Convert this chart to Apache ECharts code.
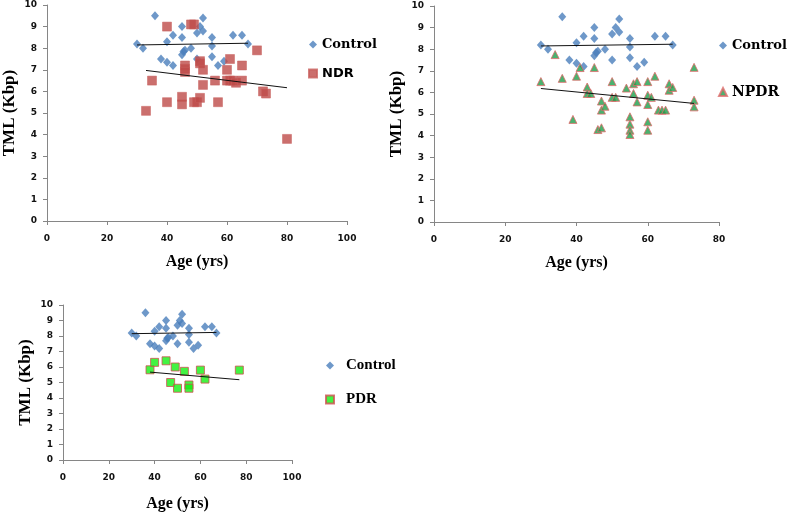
<!DOCTYPE html>
<html><head><meta charset="utf-8">
<script src="https://cdn.jsdelivr.net/npm/echarts@6/dist/echarts.min.js"></script>
<style>html,body{margin:0;padding:0;background:#fff}#c{width:787px;height:513px}</style>
</head><body><div id="c"></div>
<script>
// Control group (same in all three panels)
var ctrlAge = [30,32,36,38,40,40,42,42,45,45,45,45.5,46,48,50,50,51,52,52,55,55,55,57,59,62,65,67];
var ctrlTml = [8.2,8.0,9.5,7.5,8.3,7.35,8.6,7.2,9.0,8.5,7.7,7.85,7.9,8.0,8.7,7.5,9.0,8.8,9.4,8.5,8.1,7.6,7.2,7.4,8.6,8.6,8.2];
// NDR
var ndrAge = [33,35,40,40,45,45,46,46,46,48,49,49,50,51,51,51,52,52,56,57,60,61,60,61,62,63,65,65,70,72,73,80];
var ndrTml = [5.1,6.5,9.0,5.5,5.75,5.4,7.2,7.05,6.9,9.1,9.1,5.5,5.5,5.7,7.4,7.3,7.0,6.3,6.5,5.5,7.0,7.5,6.5,6.5,6.5,6.4,7.2,6.5,7.9,6.0,5.9,3.8];
// NPDR
var npdrAge = [30,34,36,39,40,41,43,43,44,45,46,47,47,47,48,50,50,51,54,55,55,55,55,56,56,57,57,60,60,60,60,60,61,62,63,64,65,66,66,67,73,73,73];
var npdrTml = [6.5,7.75,6.65,4.75,6.75,7.15,6.25,5.95,5.95,7.15,4.28,4.36,5.6,5.18,5.36,6.5,5.77,5.77,6.2,4.87,4.53,4.25,4.05,6.4,5.95,6.5,5.56,6.5,5.87,5.44,4.64,4.25,5.77,6.75,5.18,5.18,5.18,6.4,6.1,6.23,7.16,5.64,5.33];
// PDR
var pdrAge = [38,40,45,47,49,50,53,55,55,60,62,77];
var pdrTml = [5.82,6.3,6.4,5.0,6.0,4.63,5.72,4.84,4.63,5.8,5.22,5.8];
// Trend line endpoints
var ctrlTrendAge = [30,67], ctrlTrendTml = [8.15,8.23];
var ndrTrendAge = [33,80], ndrTrendTml = [6.97,6.17];
var npdrTrendAge = [30,73], npdrTrendTml = [6.18,5.49];
var pdrTrendAge = [38,77], pdrTrendTml = [5.67,5.18];
// Axis ticks
var yTicks = [0,1,2,3,4,5,6,7,8,9,10];
var xMax = [100, 80, 100];

function zip(a,b){ return a.map(function(v,i){ return [v,b[i]]; }); }

var axisGray = '#868686';
function xAx(gi, gap){
  return {type:'value', gridIndex:gi, min:0, max:xMax[gi], interval:20,
    name:'Age (yrs)', nameLocation:'middle', nameGap:gap,
    nameTextStyle:{fontFamily:'Liberation Serif', fontWeight:'bold', fontSize:16, color:'#000'},
    axisLine:{onZero:false, lineStyle:{color:axisGray, width:1}},
    axisTick:{show:true, length:4, lineStyle:{color:axisGray}},
    axisLabel:{margin:13, fontFamily:'DejaVu Sans', fontWeight:'bold', fontSize:9, color:'#111'},
    splitLine:{show:false}};
}
function yAx(gi){
  return {type:'value', gridIndex:gi, min:yTicks[0], max:yTicks[yTicks.length-1], interval:1,
    name:'TML (Kbp)', nameLocation:'middle', nameGap:29, nameRotate:90,
    nameTextStyle:{fontFamily:'Liberation Serif', fontWeight:'bold', fontSize:17, color:'#000'},
    axisLine:{show:true, onZero:false, lineStyle:{color:axisGray, width:1}},
    axisTick:{show:true, length:4, lineStyle:{color:axisGray}},
    axisLabel:{margin:10, fontFamily:'DejaVu Sans', fontWeight:'bold', fontSize:9, color:'#111'},
    splitLine:{show:false}};
}

var ctrlStyle = {color:'#4A7EBB'};
function ctrlSeries(gi){
  return {name:'Control', type:'scatter', xAxisIndex:gi, yAxisIndex:gi, symbol:'diamond', symbolSize:[8,9],
    itemStyle:ctrlStyle, data:zip(ctrlAge, ctrlTml), z:2};
}
function trend(gi, a, t){
  return {name:'trend'+gi+'_'+a[0], type:'line', xAxisIndex:gi, yAxisIndex:gi, symbol:'none',
    lineStyle:{color:'#111', width:1}, data:zip(a,t), z:4, silent:true};
}

var chart = echarts.init(document.getElementById('c'), null, {renderer:'canvas'});
chart.setOption({
  animation:false,
  backgroundColor:'#fff',
  grid:[
    {left:47, top:5, width:300, height:216},
    {left:434, top:6, width:285, height:216},
    {left:63, top:305, width:229, height:156}
  ],
  xAxis:[xAx(0,33), xAx(1,33), xAx(2,36)],
  yAxis:[yAx(0), yAx(1), yAx(2)],
  legend:[
    {orient:'vertical', left:308, top:38, padding:0, itemWidth:8, itemHeight:8, itemGap:16,
     data:[{name:'Control', textStyle:{fontFamily:'DejaVu Serif', fontWeight:'bold', fontSize:13, color:'#000'}},
           {name:'NDR', textStyle:{fontFamily:'DejaVu Sans', fontWeight:'bold', fontSize:13, color:'#000'}}]},
    {orient:'vertical', left:718, top:39, padding:0, itemWidth:8, itemHeight:8, itemGap:33,
     data:[{name:'Control', textStyle:{fontFamily:'DejaVu Serif', fontWeight:'bold', fontSize:13, color:'#000'}},
           {name:'NPDR', textStyle:{fontFamily:'DejaVu Serif', fontWeight:'bold', fontSize:14, color:'#000'}}]},
    {orient:'vertical', left:325, top:358, padding:0, itemWidth:8, itemHeight:8, itemGap:19,
     data:[{name:'Control', textStyle:{fontFamily:'Liberation Serif', fontWeight:'bold', fontSize:15, color:'#000', padding:[0,0,0,7]}},
           {name:'PDR', textStyle:{fontFamily:'Liberation Serif', fontWeight:'bold', fontSize:15, color:'#000', padding:[0,0,0,7]}}]}
  ],
  series:[
    ctrlSeries(0),
    {name:'NDR', type:'scatter', xAxisIndex:0, yAxisIndex:0, symbol:'rect', symbolSize:9,
     itemStyle:{color:'#BE4B48', borderColor:'#C85F5C', borderWidth:0.6}, data:zip(ndrAge, ndrTml), z:3},
    trend(0, ctrlTrendAge, ctrlTrendTml),
    trend(0, ndrTrendAge, ndrTrendTml),
    ctrlSeries(1),
    {name:'NPDR', type:'scatter', xAxisIndex:1, yAxisIndex:1, symbol:'triangle', symbolSize:8,
     itemStyle:{color:'#1E9E4A', borderColor:'#E06B6B', borderWidth:1}, data:zip(npdrAge, npdrTml), z:3},
    trend(1, ctrlTrendAge, ctrlTrendTml),
    trend(1, npdrTrendAge, npdrTrendTml),
    ctrlSeries(2),
    {name:'PDR', type:'scatter', xAxisIndex:2, yAxisIndex:2, symbol:'rect', symbolSize:8,
     itemStyle:{color:'#14F014', borderColor:'#D05050', borderWidth:1}, data:zip(pdrAge, pdrTml), z:3},
    trend(2, ctrlTrendAge, ctrlTrendTml),
    trend(2, pdrTrendAge, pdrTrendTml)
  ]
});
</script></body></html>
